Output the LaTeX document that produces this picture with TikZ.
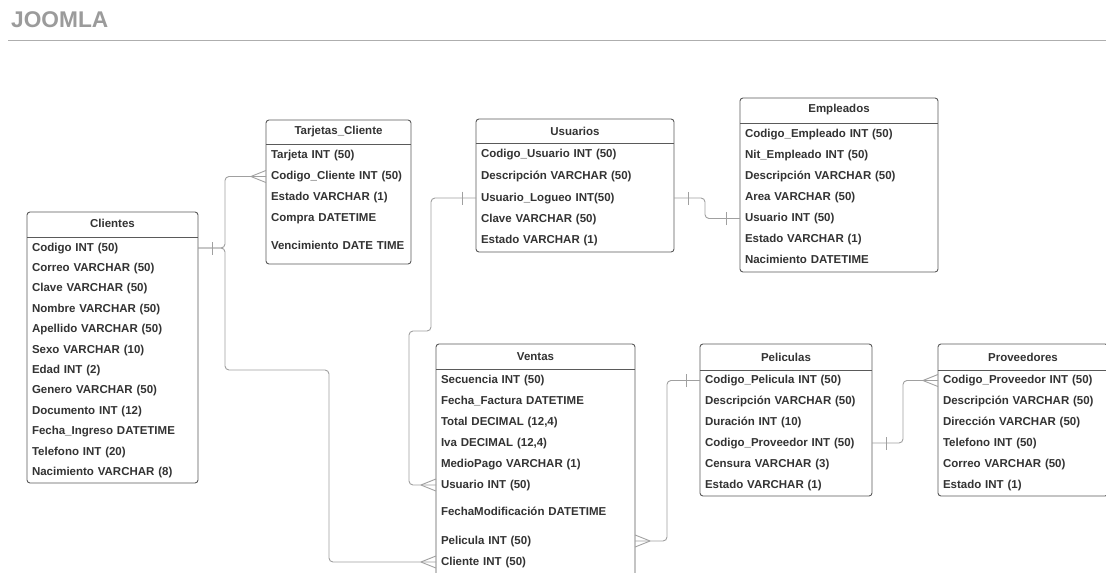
\documentclass[tikz,border=0pt]{standalone}
\usepackage{fontspec}
\setmainfont{Liberation Sans}
\usepackage{xcolor}
\usetikzlibrary{decorations.markings}

\definecolor{borde}{HTML}{5A5A5A}
\definecolor{texto}{HTML}{333333}
\definecolor{linea}{HTML}{A0A0A0}
\definecolor{cabecera}{HTML}{9B9B9B}

\tikzset{
  tabla/.style={draw=borde, line width=0.9pt, rounded corners=3pt},
  nombre/.style={font=\fontsize{11.5}{13}\selectfont\bfseries, text=texto, inner sep=0pt},
  campo/.style={anchor=west, inner xsep=5pt, inner ysep=0pt, outer sep=0pt, align=left,
                text height=8.5pt, text depth=2.5pt,
                font=\fontsize{11.5}{13}\selectfont\bfseries, text=texto},
  rel/.style={draw=linea, line width=0.9pt, rounded corners=4pt},
  unoIni/.style={postaction={decorate, decoration={markings,
      mark=at position 14pt with {\draw[linea, line width=0.9pt] (0,-6.5pt) -- (0,6.5pt);}}}},
  unoFin/.style={postaction={decorate, decoration={markings,
      mark=at position -14pt with {\draw[linea, line width=0.9pt] (0,-6.5pt) -- (0,6.5pt);}}}},
  muchosIni/.style={postaction={decorate, decoration={markings,
      mark=at position 0.1pt with {\draw[linea, line width=0.9pt] (15pt,0) -- (0,6pt) (15pt,0) -- (0,-6pt);}}}},
  muchosFin/.style={postaction={decorate, decoration={markings,
      mark=at position -0.1pt with {\draw[linea, line width=0.9pt] (-15pt,0) -- (0,6pt) (-15pt,0) -- (0,-6pt);}}}},
}

\begin{document}
\begin{tikzpicture}[x=1pt, y=-1pt]
                \useasboundingbox (0,0) rectangle (1106,573);
                \clip (0,0) rectangle (1106,573);
                \fill[white] (0,0) rectangle (1106,573);

                %% titulo
                \node[anchor=base west, inner sep=0pt, text=cabecera,
                      font=\fontsize{22.7}{26}\selectfont\bfseries] (titulo) at (11,27.5) {JOOMLA};
                \draw[draw=linea!85, line width=1pt] (8,40) -- (1106,40);

                %% Clientes
                \draw[tabla] (27,212) rectangle (198,483);
                \draw[tabla] (27,237) -- (198,237);
                \node[nombre] (clientes) at (112.5,223) {Clientes};
                \node[campo, text width=161pt] (cliCodigo) at (27,248) {Codigo INT (50)};
                \node[campo, text width=161pt] (cliCorreo) at (27,268.4) {Correo VARCHAR (50)};
                \node[campo, text width=161pt] (cliClave) at (27,288.8) {Clave VARCHAR (50)};
                \node[campo, text width=161pt] (cliNombre) at (27,309.2) {Nombre VARCHAR (50)};
                \node[campo, text width=161pt] (cliApellido) at (27,329.6) {Apellido VARCHAR (50)};
                \node[campo, text width=161pt] (cliSexo) at (27,350) {Sexo VARCHAR (10)};
                \node[campo, text width=161pt] (cliEdad) at (27,370.4) {Edad INT (2)};
                \node[campo, text width=161pt] (cliGenero) at (27,390.8) {Genero VARCHAR (50)};
                \node[campo, text width=161pt] (cliDocumento) at (27,411.2) {Documento INT (12)};
                \node[campo, text width=161pt] (cliIngreso) at (27,431.6) {Fecha\_Ingreso DATETIME};
                \node[campo, text width=161pt] (cliTelefono) at (27,452) {Telefono INT (20)};
                \node[campo, text width=161pt] (cliNacimiento) at (27,472.4) {Nacimiento VARCHAR (8)};

                %% Tarjetas_Cliente
                \draw[tabla] (266,120) rectangle (411,264);
                \draw[tabla] (266,144) -- (411,144);
                \node[nombre] (tarjetas) at (338.5,132) {Tarjetas\_Cliente};
                \node[campo, text width=135pt] (tarTarjeta) at (266,155) {Tarjeta INT (50)};
                \node[campo, text width=135pt] (tarCodigo) at (266,176.5) {Codigo\_Cliente INT (50)};
                \node[campo, text width=135pt] (tarEstado) at (266,197.5) {Estado VARCHAR (1)};
                \node[campo, text width=135pt] (tarCompra) at (266,218) {Compra DATETIME};
                \node[campo, text width=135pt] (tarVence) at (266,246) {Vencimiento DATE TIME};

                %% Usuarios
                \draw[tabla] (476,119) rectangle (674,252);
                \draw[tabla] (476,143) -- (674,143);
                \node[nombre] (usuarios) at (575,131) {Usuarios};
                \node[campo, text width=188pt] (usuCodigo) at (476,154) {Codigo\_Usuario INT (50)};
                \node[campo, text width=188pt] (usuDescripcion) at (476,176) {Descripción VARCHAR (50)};
                \node[campo, text width=188pt] (usuLogueo) at (476,198) {Usuario\_Logueo INT(50)};
                \node[campo, text width=188pt] (usuClave) at (476,219) {Clave VARCHAR (50)};
                \node[campo, text width=188pt] (usuEstado) at (476,240) {Estado VARCHAR (1)};

                %% Empleados
                \draw[tabla] (740,98) rectangle (938,272);
                \draw[tabla] (740,123) -- (938,123);
                \node[nombre] (empleados) at (839,110) {Empleados};
                \node[campo, text width=188pt] (empCodigo) at (740,134) {Codigo\_Empleado INT (50)};
                \node[campo, text width=188pt] (empNit) at (740,155) {Nit\_Empleado INT (50)};
                \node[campo, text width=188pt] (empDescripcion) at (740,176) {Descripción VARCHAR (50)};
                \node[campo, text width=188pt] (empArea) at (740,197) {Area VARCHAR (50)};
                \node[campo, text width=188pt] (empUsuario) at (740,218.5) {Usuario INT (50)};
                \node[campo, text width=188pt] (empEstado) at (740,239) {Estado VARCHAR (1)};
                \node[campo, text width=188pt] (empNacimiento) at (740,260) {Nacimiento DATETIME};

                %% Ventas
                \draw[tabla] (436,344) rectangle (635,590);
                \draw[tabla] (436,369) -- (635,369);
                \node[nombre] (ventas) at (535.5,357) {Ventas};
                \node[campo, text width=189pt] (venSecuencia) at (436,380) {Secuencia INT (50)};
                \node[campo, text width=189pt] (venFecha) at (436,401) {Fecha\_Factura DATETIME};
                \node[campo, text width=189pt] (venTotal) at (436,422) {Total DECIMAL (12,4)};
                \node[campo, text width=189pt] (venIva) at (436,443) {Iva DECIMAL (12,4)};
                \node[campo, text width=189pt] (venPago) at (436,464) {MedioPago VARCHAR (1)};
                \node[campo, text width=189pt] (venUsuario) at (436,485) {Usuario INT (50)};
                \node[campo, text width=189pt] (venModif) at (436,512.5) {FechaModificación DATETIME};
                \node[campo, text width=189pt] (venPelicula) at (436,541) {Pelicula INT (50)};
                \node[campo, text width=189pt] (venCliente) at (436,562) {Cliente INT (50)};

                %% Peliculas
                \draw[tabla] (700,344) rectangle (872,496);
                \draw[tabla] (700,370) -- (872,370);
                \node[nombre] (peliculas) at (786,357) {Peliculas};
                \node[campo, text width=162pt] (pelCodigo) at (700,380.5) {Codigo\_Pelicula INT (50)};
                \node[campo, text width=162pt] (pelDescripcion) at (700,401.5) {Descripción VARCHAR (50)};
                \node[campo, text width=162pt] (pelDuracion) at (700,422) {Duración INT (10)};
                \node[campo, text width=162pt] (pelProveedor) at (700,443) {Codigo\_Proveedor INT (50)};
                \node[campo, text width=162pt] (pelCensura) at (700,464) {Censura VARCHAR (3)};
                \node[campo, text width=162pt] (pelEstado) at (700,485) {Estado VARCHAR (1)};

                %% Proveedores
                \draw[tabla] (938,344) rectangle (1108,496);
                \draw[tabla] (938,370) -- (1108,370);
                \node[nombre] (proveedores) at (1023,357) {Proveedores};
                \node[campo, text width=160pt] (proCodigo) at (938,380.5) {Codigo\_Proveedor INT (50)};
                \node[campo, text width=160pt] (proDescripcion) at (938,401.5) {Descripción VARCHAR (50)};
                \node[campo, text width=160pt] (proDireccion) at (938,422) {Dirección VARCHAR (50)};
                \node[campo, text width=160pt] (proTelefono) at (938,443) {Telefono INT (50)};
                \node[campo, text width=160pt] (proCorreo) at (938,464) {Correo VARCHAR (50)};
                \node[campo, text width=160pt] (proEstado) at (938,485) {Estado INT (1)};

                %% relaciones
                \draw[rel, unoIni, muchosFin] (cliCodigo.east) -- ++(27,0) |- (tarCodigo.west);
                \draw[rel, muchosFin] (cliCodigo.east) -- ++(27,0) -- ++(0,122) -- ++(104,0) |- (venCliente.west);
                \draw[rel, unoIni, muchosFin] (usuLogueo.west) -- ++(-45,0) -- ++(0,133) -- ++(-22,0) |- (venUsuario.west);
                \draw[rel, unoIni, unoFin] (usuLogueo.east) -- ++(31,0) |- (empUsuario.west);
                \draw[rel, muchosIni, unoFin] (venPelicula.east) -- ++(32,0) |- (pelCodigo.west);
                \draw[rel, unoIni, muchosFin] (pelProveedor.east) -- ++(31,0) |- (proCodigo.west);

\end{tikzpicture}
\end{document}
